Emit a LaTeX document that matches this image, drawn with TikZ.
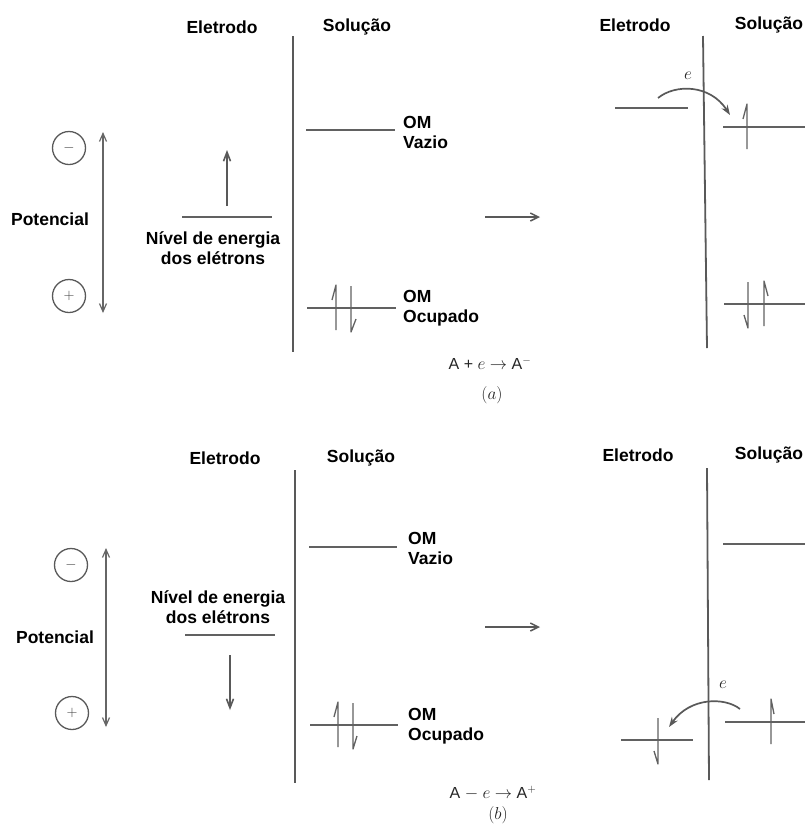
\documentclass[tikz,border=0pt]{standalone}
\usepackage{fontspec}
\setmainfont{Liberation Sans}
\usetikzlibrary{arrows.meta}

% electron spins drawn as half arrows: {x}{level y}{barb offset}
\newcommand{\spinup}[3]{\draw[spin] (#1,#2+22) -- (#1,#2-23) -- ++(#3,15);}
\newcommand{\spindown}[3]{\draw[spin] (#1,#2-22) -- (#1,#2+24) -- ++(#3,-13);}

\begin{document}
\begin{tikzpicture}[x=1pt, y=-1pt,
    lbl/.style={font=\fontsize{17.5}{20}\selectfont\bfseries, text=black, inner sep=0pt},
    om/.style={lbl, anchor=west, align=left},
    eq/.style={font=\fontsize{16}{18}\selectfont, text=black!85, inner sep=0pt},
    lvl/.style={draw=black!62, line width=1.8pt},
    elec/.style={draw=black!65, line width=1.8pt},
    spin/.style={draw=black!62, line width=1.3pt, line join=round},
    sign/.style={circle, draw=black!65, line width=1.3pt, minimum size=33pt, inner sep=0pt, font=\fontsize{15}{15}\selectfont, text=black!75},
    pot/.style={{Straight Barb[length=8pt,width=7pt]}-{Straight Barb[length=8pt,width=7pt]}, draw=black!60, line width=1.2pt},
    lift/.style={-{Straight Barb[length=9pt,width=7pt]}, draw=black!65, line width=1.6pt},
    stepto/.style={-{Straight Barb[length=8pt,width=8pt]}, draw=black!65, line width=1.5pt},
    hop/.style={-{Stealth[length=10pt,width=7pt]}, draw=black!65, line width=1.7pt}
  ]
  \useasboundingbox[fill=white] (0,0) rectangle (805,831);

  % ---------- (a) reduction ----------
  \node[lbl] (aEl) at (222,27) {Eletrodo};
  \node[lbl] (aSol) at (357,27) {Solução};
  \coordinate (aWallT) at (293,36);
  \coordinate (aWallB) at (293,352);
  \draw[elec] (aWallT) -- (aWallB);

  % potential scale
  \node[sign] (aMinus) at (69,148) {$-$};
  \node[sign] (aPlus) at (69,296) {$+$};
  \coordinate (aPotT) at (103,132);
  \coordinate (aPotB) at (103,313);
  \draw[pot] (aPotT) -- (aPotB);
  \node[lbl] (aPot) at (50,219) {Potencial};

  % electrode level, raised
  \coordinate (aLvlL) at (182,217);
  \coordinate (aLvlR) at (272,217);
  \draw[lvl] (aLvlL) -- (aLvlR);
  \coordinate (aLiftS) at (227,206);
  \coordinate (aLiftE) at (227,150);
  \draw[lift] (aLiftS) -- (aLiftE);
  \node[lbl, align=center] (aNivel) at (213,248) {Nível de energia\\dos elétrons};

  % orbitals in solution
  \draw[lvl] (306,130) -- (395,130);
  \node[om] (aVazio) at (403,132) {OM\\Vazio};
  \draw[lvl] (307,308) -- (396,308);
  \spinup{336}{308}{-4}
  \spindown{351}{308}{5}
  \node[om] (aOcup) at (403,308) {OM\\Ocupado};

  \coordinate (aFrom) at (485,217);
  \coordinate (aTo) at (540,217);
  \draw[stepto] (aFrom) -- (aTo);
  \node[eq] (aEq) at (490,363) {A + $e$ $\rightarrow$ A$^-$};
  \node[eq] (aTag) at (492,395) {$(a)$};

  % after transfer
  \node[lbl] (a2El) at (635,25) {Eletrodo};
  \node[lbl] (a2Sol) at (769,25) {Solução};
  \coordinate (a2WallT) at (703,36);
  \coordinate (a2WallB) at (707,348);
  \draw[elec] (a2WallT) -- (a2WallB);
  \draw[lvl] (615,108) -- (688,108);
  \draw[lvl] (723,127) -- (805,127);
  \spinup{747}{127}{-4}
  \draw[lvl] (724,304) -- (805,304);
  \spindown{748}{304}{-4}
  \spinup{764}{304}{4}
  \coordinate (a2HopS) at (658,98);
  \coordinate (a2HopE) at (730,115);
  \draw[hop] (a2HopS) .. controls (675,84) and (710,84) .. (a2HopE);
  \node[eq, font=\fontsize{18}{18}\selectfont] (a2e) at (688,76) {$e$};

  % ---------- (b) oxidation ----------
  \node[lbl] (bEl) at (225,458) {Eletrodo};
  \node[lbl] (bSol) at (361,458) {Solução};
  \coordinate (bWallT) at (295,470);
  \coordinate (bWallB) at (295,783);
  \draw[elec] (bWallT) -- (bWallB);

  \node[sign] (bMinus) at (71,565) {$-$};
  \node[sign] (bPlus) at (72,713) {$+$};
  \coordinate (bPotT) at (106,548);
  \coordinate (bPotB) at (106,727);
  \draw[pot] (bPotT) -- (bPotB);
  \node[lbl] (bPot) at (55,637) {Potencial};

  % electrode level, lowered
  \node[lbl, align=center] (bNivel) at (218,607) {Nível de energia\\dos elétrons};
  \coordinate (bLvlL) at (185,635);
  \coordinate (bLvlR) at (275,635);
  \draw[lvl] (bLvlL) -- (bLvlR);
  \coordinate (bDropS) at (230,655);
  \coordinate (bDropE) at (230,710);
  \draw[lift] (bDropS) -- (bDropE);

  \draw[lvl] (309,547) -- (397,547);
  \node[om] (bVazio) at (408,548) {OM\\Vazio};
  \draw[lvl] (310,725) -- (398,725);
  \spinup{338}{725}{-4}
  \spindown{353}{725}{4}
  \node[om] (bOcup) at (408,726) {OM\\Ocupado};

  \coordinate (bFrom) at (485,627);
  \coordinate (bTo) at (540,627);
  \draw[stepto] (bFrom) -- (bTo);
  \node[eq] (bEq) at (493,793) {A $-$ $e$ $\rightarrow$ A$^+$};
  \node[eq] (bTag) at (498,815) {$(b)$};

  % after transfer
  \node[lbl] (b2El) at (638,455) {Eletrodo};
  \node[lbl] (b2Sol) at (769,455) {Solução};
  \coordinate (b2WallT) at (707,468);
  \coordinate (b2WallB) at (709,780);
  \draw[elec] (b2WallT) -- (b2WallB);
  \draw[lvl] (723,544) -- (805,544);
  \draw[lvl] (725,722) -- (805,722);
  \spinup{771}{722}{3}
  \draw[lvl] (621,740) -- (693,740);
  \spindown{658}{740}{-4}
  \coordinate (b2HopS) at (740,709);
  \coordinate (b2HopE) at (669,727);
  \draw[hop] (b2HopS) .. controls (725,697) and (690,697) .. (b2HopE);
  \node[eq, font=\fontsize{18}{18}\selectfont] (b2e) at (723,685) {$e$};
\end{tikzpicture}
\end{document}
